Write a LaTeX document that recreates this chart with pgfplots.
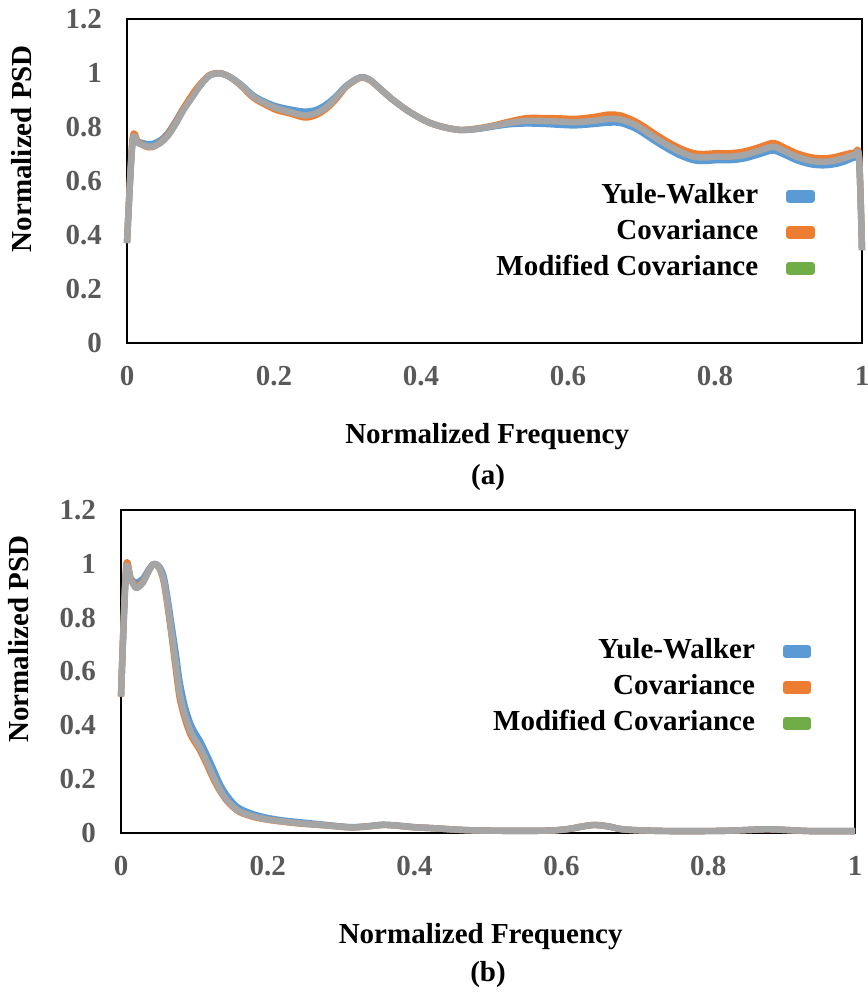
\documentclass[border=0pt]{standalone}
\usepackage{fontspec}
\setmainfont{Liberation Serif}
\usepackage{pgfplots}
\usepackage{pgfplotstable}
\pgfplotsset{compat=1.18}
\definecolor{ywblue}{HTML}{5B9BD5}
\definecolor{covorange}{HTML}{ED7D31}
\definecolor{mcgray}{HTML}{A5A5A5}
\definecolor{mcgreen}{HTML}{70AD47}
\definecolor{tickgray}{HTML}{595959}

\pgfplotstableread{
f yw cov mc
0 0.37 0.37 0.37
0.0075 0.74 0.755 0.745
0.015 0.745 0.745 0.74
0.025 0.738 0.728 0.73
0.034 0.737 0.725 0.727
0.045 0.75 0.742 0.74
0.055 0.775 0.77 0.765
0.066 0.82 0.815 0.81
0.077 0.87 0.87 0.863
0.09 0.92 0.925 0.915
0.10 0.955 0.96 0.955
0.112 0.99 0.992 0.99
0.126 0.999 1.0 0.999
0.14 0.985 0.985 0.985
0.155 0.957 0.953 0.955
0.172 0.916 0.908 0.912
0.19 0.89 0.88 0.885
0.204 0.876 0.862 0.869
0.222 0.865 0.85 0.855
0.242 0.857 0.835 0.843
0.258 0.864 0.845 0.852
0.272 0.885 0.87 0.875
0.285 0.915 0.905 0.91
0.298 0.952 0.948 0.95
0.317 0.984 0.982 0.983
0.33 0.976 0.974 0.975
0.345 0.94 0.94 0.94
0.362 0.90 0.90 0.90
0.385 0.855 0.855 0.855
0.408 0.82 0.82 0.82
0.43 0.80 0.80 0.80
0.453 0.789 0.789 0.789
0.475 0.792 0.794 0.793
0.499 0.802 0.806 0.804
0.52 0.81 0.82 0.815
0.544 0.813 0.833 0.823
0.57 0.811 0.833 0.822
0.589 0.808 0.832 0.82
0.61 0.806 0.83 0.818
0.635 0.811 0.837 0.823
0.655 0.816 0.846 0.83
0.671 0.815 0.843 0.828
0.69 0.797 0.823 0.81
0.703 0.776 0.802 0.789
0.72 0.745 0.771 0.758
0.739 0.714 0.74 0.727
0.755 0.692 0.718 0.705
0.771 0.677 0.703 0.69
0.785 0.674 0.70 0.687
0.802 0.677 0.703 0.69
0.82 0.677 0.703 0.69
0.839 0.683 0.709 0.696
0.86 0.699 0.725 0.712
0.879 0.713 0.741 0.727
0.895 0.697 0.723 0.71
0.911 0.677 0.703 0.69
0.93 0.662 0.688 0.675
0.947 0.658 0.684 0.671
0.962 0.662 0.688 0.675
0.975 0.671 0.697 0.684
0.99 0.687 0.705 0.697
0.996 0.68 0.69 0.685
1.0 0.344 0.344 0.344
}\topdata

\pgfplotstableread{
f yw cov mc
0 0.507 0.507 0.507
0.0068 0.965 0.985 0.972
0.013 0.945 0.95 0.945
0.0204 0.93 0.915 0.91
0.03 0.945 0.935 0.93
0.038 0.98 0.975 0.975
0.045 1.0 1.0 1.0
0.052 0.99 0.985 0.985
0.058 0.955 0.935 0.94
0.063 0.88 0.85 0.86
0.069 0.77 0.73 0.742
0.075 0.66 0.60 0.62
0.08 0.56 0.50 0.519
0.087 0.47 0.425 0.44
0.094 0.41 0.37 0.383
0.10 0.375 0.34 0.35
0.107 0.345 0.31 0.32
0.116 0.295 0.26 0.27
0.126 0.235 0.20 0.209
0.135 0.18 0.155 0.16
0.144 0.14 0.12 0.123
0.153 0.11 0.095 0.097
0.162 0.09 0.077 0.079
0.18 0.07 0.06 0.062
0.198 0.057 0.05 0.051
0.22 0.047 0.042 0.043
0.244 0.04 0.035 0.036
0.28 0.03 0.028 0.028
0.312 0.022 0.021 0.021
0.335 0.025 0.024 0.024
0.357 0.031 0.03 0.03
0.38 0.027 0.026 0.026
0.40 0.022 0.021 0.021
0.425 0.018 0.018 0.018
0.46 0.012 0.012 0.012
0.493 0.009 0.009 0.009
0.54 0.008 0.008 0.008
0.584 0.009 0.009 0.009
0.61 0.015 0.015 0.015
0.63 0.025 0.025 0.025
0.646 0.03 0.03 0.03
0.665 0.024 0.024 0.024
0.68 0.015 0.015 0.015
0.698 0.011 0.011 0.011
0.73 0.008 0.008 0.008
0.766 0.007 0.007 0.007
0.82 0.008 0.008 0.008
0.86 0.012 0.012 0.012
0.88 0.014 0.014 0.014
0.90 0.012 0.012 0.012
0.93 0.008 0.008 0.008
0.948 0.007 0.007 0.007
1.0 0.007 0.007 0.007
}\botdata

\newcommand{\swatch}[1]{\fill[#1] (0pt,-1.75pt) rectangle (11pt,1.75pt);}

\pgfplotsset{psd/.style={
  scale only axis,
  xmin=0, xmax=1, ymin=0, ymax=1.2,
  xtick={0,0.2,0.4,0.6,0.8,1}, ytick={0,0.2,0.4,0.6,0.8,1,1.2},
  major tick length=0pt,
  axis line style={line width=1.2pt, black},
  tick label style={font=\fontsize{14.5}{16}\selectfont\bfseries, text=tickgray},
  /pgf/number format/assume math mode=true,
  yticklabel style={xshift=-9pt},
  xticklabel style={yshift=-8pt},
  label style={font=\fontsize{14.5}{16}\selectfont\bfseries},
  xlabel={Normalized Frequency}, ylabel={Normalized PSD},
  clip=false,
  legend plot pos=right, legend cell align=right,
  legend style={draw=none, fill=none, inner sep=0pt, column sep=14pt, row sep=5pt,
    font=\fontsize{14.5}{16}\selectfont\bfseries,
    nodes={inner sep=0pt, text height=10pt, text depth=3pt}},
  every axis plot/.append style={line width=3.2pt, smooth, line join=round},
}}

\begin{document}
\begin{tikzpicture}
\useasboundingbox (0,0) rectangle (433.5pt,-497pt);
\begin{axis}[psd, at={(63.5pt,-171.5pt)}, anchor=south west, width=367.5pt, height=162pt,
  xlabel style={at={(axis description cs:0.49,-0.29)}, anchor=center},
  ylabel style={at={(axis description cs:-0.143,0.6)}, anchor=center},
  legend style={at={(axis description cs:0.936,0.494)}, anchor=north east}]
\addplot[ywblue, legend image code/.code={\swatch{ywblue}}] table[x=f,y=yw]{\topdata};
\addlegendentry{Yule-Walker}
\addplot[covorange, legend image code/.code={\swatch{covorange}}] table[x=f,y=cov]{\topdata};
\addlegendentry{Covariance}
\addplot[mcgray, legend image code/.code={\swatch{mcgreen}}] table[x=f,y=mc]{\topdata};
\addlegendentry{Modified Covariance}
\end{axis}
\node[font=\fontsize{14.5}{16}\selectfont\bfseries] at (244pt,-239pt) {(a)};

\begin{axis}[psd, at={(60.5pt,-416.5pt)}, anchor=south west, width=367pt, height=161.5pt,
  xlabel style={at={(axis description cs:0.49,-0.32)}, anchor=center},
  ylabel style={at={(axis description cs:-0.14,0.6)}, anchor=center},
  legend style={at={(axis description cs:0.941,0.604)}, anchor=north east}]
\addplot[ywblue, legend image code/.code={\swatch{ywblue}}] table[x=f,y=yw]{\botdata};
\addlegendentry{Yule-Walker}
\addplot[covorange, legend image code/.code={\swatch{covorange}}] table[x=f,y=cov]{\botdata};
\addlegendentry{Covariance}
\addplot[mcgray, legend image code/.code={\swatch{mcgreen}}] table[x=f,y=mc]{\botdata};
\addlegendentry{Modified Covariance}
\end{axis}
\node[font=\fontsize{14.5}{16}\selectfont\bfseries] at (244pt,-487.5pt) {(b)};
\end{tikzpicture}
\end{document}
